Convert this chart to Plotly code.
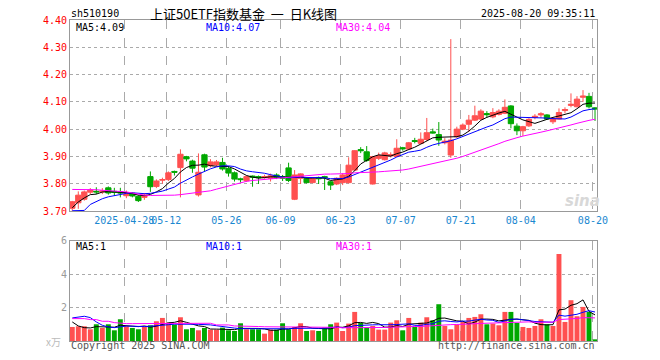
import numpy as np
import plotly.graph_objects as go

dates = ["04-15","04-16","04-17","04-18","04-21","04-22","04-23","04-24","04-25","04-28",
         "04-29","04-30","05-06","05-07","05-08","05-09","05-12","05-13","05-14","05-15",
         "05-16","05-19","05-20","05-21","05-22","05-23","05-26","05-27","05-28","05-29",
         "05-30","06-03","06-04","06-05","06-06","06-09","06-10","06-11","06-12","06-13",
         "06-16","06-17","06-18","06-19","06-20","06-23","06-24","06-25","06-26","06-27",
         "06-30","07-01","07-02","07-03","07-04","07-07","07-08","07-09","07-10","07-11",
         "07-14","07-15","07-16","07-17","07-18","07-21","07-22","07-23","07-24","07-25",
         "07-28","07-29","07-30","07-31","08-01","08-04","08-05","08-06","08-07","08-08",
         "08-11","08-12","08-13","08-14","08-15","08-18","08-19","08-20"]

opens = [3.710,3.730,3.743,3.769,3.772,3.770,3.785,3.772,3.770,3.756,
         3.765,3.754,3.750,3.826,3.790,3.813,3.815,3.845,3.859,3.899,
         3.883,3.759,3.906,3.866,3.869,3.878,3.856,3.840,3.818,3.811,
         3.828,3.826,3.822,3.820,3.832,3.826,3.858,3.743,3.820,3.820,
         3.804,3.823,3.826,3.807,3.799,3.804,3.804,3.850,3.925,3.917,
         3.799,3.893,3.888,3.902,3.900,3.932,3.927,3.958,3.948,3.962,
         3.990,3.980,3.950,3.905,3.972,4.000,4.018,4.033,4.037,4.057,
         4.045,4.054,4.058,4.085,4.011,3.994,4.012,4.043,4.052,4.052,
         4.027,4.037,4.068,4.087,4.082,4.117,4.120,4.078]
highs = [3.737,3.772,3.775,3.784,3.787,3.784,3.790,3.785,3.785,3.775,
         3.768,3.758,3.766,3.845,3.816,3.822,3.845,3.848,3.926,3.902,
         3.888,3.911,3.910,3.890,3.887,3.895,3.865,3.845,3.822,3.830,
         3.830,3.830,3.833,3.837,3.838,3.832,3.877,3.850,3.838,3.824,
         3.822,3.826,3.829,3.810,3.823,3.838,3.897,3.923,3.934,3.938,
         3.902,3.914,3.917,3.915,3.963,3.935,3.953,3.968,3.988,4.041,
         4.002,4.026,3.967,4.330,4.009,4.021,4.052,4.086,4.073,4.066,
         4.077,4.073,4.109,4.088,4.021,4.012,4.040,4.055,4.062,4.055,
         4.044,4.076,4.080,4.131,4.121,4.143,4.133,4.080]
lows = [3.701,3.708,3.738,3.762,3.762,3.762,3.760,3.755,3.750,3.747,
        3.750,3.733,3.741,3.770,3.784,3.800,3.810,3.830,3.750,3.882,
        3.840,3.753,3.845,3.860,3.864,3.848,3.826,3.808,3.804,3.807,
        3.789,3.799,3.818,3.808,3.817,3.810,3.806,3.740,3.799,3.801,
        3.802,3.799,3.777,3.777,3.795,3.795,3.801,3.848,3.912,3.880,
        3.797,3.887,3.885,3.896,3.898,3.921,3.923,3.948,3.945,3.957,
        3.984,3.939,3.944,3.895,3.968,3.996,3.990,4.030,4.033,4.042,
        4.040,4.050,4.055,4.003,3.978,3.975,4.008,4.036,4.042,4.034,
        4.019,4.035,4.058,4.080,4.080,4.100,4.076,4.030]
closes = [3.734,3.758,3.770,3.777,3.770,3.773,3.766,3.768,3.766,3.764,
          3.755,3.738,3.758,3.789,3.810,3.815,3.840,3.842,3.908,3.891,
          3.857,3.842,3.861,3.880,3.880,3.854,3.839,3.817,3.815,3.826,
          3.824,3.822,3.826,3.829,3.824,3.820,3.812,3.832,3.836,3.804,
          3.820,3.818,3.822,3.795,3.820,3.832,3.868,3.921,3.921,3.885,
          3.899,3.903,3.913,3.906,3.930,3.928,3.950,3.955,3.963,3.987,
          3.986,3.960,3.956,3.960,4.000,4.015,4.033,4.049,4.066,4.053,
          4.061,4.066,4.080,4.020,3.994,4.009,4.036,4.047,4.056,4.037,
          4.040,4.061,4.072,4.091,4.110,4.121,4.082,4.074]
volumes = [0.84,0.88,0.88,0.70,1.00,0.78,1.00,0.64,1.30,0.88,
           0.78,0.70,0.84,0.94,1.18,1.38,1.10,0.98,1.42,0.70,
           0.78,0.64,0.78,0.68,0.68,0.80,0.64,0.60,1.06,0.70,
           0.70,0.70,0.44,0.68,0.68,1.06,0.70,0.84,1.06,0.60,
           0.64,0.60,0.80,1.00,1.10,0.60,1.04,1.74,1.08,0.80,
           0.90,0.68,0.68,1.10,1.24,0.64,1.38,0.84,1.10,1.42,
           1.24,2.20,0.90,0.70,0.98,1.14,1.38,1.44,1.60,1.00,
           1.04,0.94,1.74,1.74,1.08,0.84,0.78,0.90,1.30,1.00,
           0.90,5.20,1.14,2.44,1.48,2.04,1.74,0.10]

ma5_head = [3.712, 3.733, 3.748, 3.760]
ma10_head = [3.701, 3.701, 3.702, 3.724, 3.736, 3.745, 3.752, 3.757, 3.762]
ma30_head = [3.779, 3.779, 3.779, 3.779, 3.778, 3.776, 3.775, 3.774, 3.773, 3.770,
             3.766, 3.762, 3.758, 3.757, 3.757, 3.757, 3.757, 3.758, 3.760, 3.763,
             3.765, 3.768, 3.770, 3.774, 3.780, 3.786, 3.792, 3.797, 3.802]
vma5_head = [1.14, 0.90, 0.80, 0.78]
vma10_head = [1.38, 1.44, 1.48, 1.40, 1.14, 0.94, 0.84, 0.80, 0.84]
vma30_head = [1.34, 1.34, 1.34, 1.28, 1.28, 1.18, 1.18, 1.10, 1.05, 1.04,
              1.04, 1.04, 1.04, 1.04, 1.04, 1.04, 1.04, 1.04, 1.04, 1.04,
              1.04, 1.06, 1.06, 1.06, 0.96, 0.96, 0.96, 0.90, 0.90]

# legend values as printed on the chart
price_ma_labels = ["MA5:4.09", "MA10:4.07", "MA30:4.04"]
volume_ma_labels = ["MA5:1", "MA10:1", "MA30:1"]

tick_dates = ["04-28", "05-12", "05-26", "06-09", "06-23", "07-07", "07-21", "08-04", "08-20"]
tick_text = ["2025-04-28", "05-12", "05-26", "06-09", "06-23", "07-07", "07-21", "08-04", "08-20"]
price_ticks = [3.70, 3.80, 3.90, 4.00, 4.10, 4.20, 4.30, 4.40]
vol_ticks = [2, 4, 6]


def moving_avg(vals, n, head):
    out = list(head)
    for i in range(len(head), len(vals)):
        out.append(float(np.mean(vals[i - n + 1:i + 1])))
    return out


idx = np.arange(len(dates))
ma5 = moving_avg(closes, 5, ma5_head)
ma10 = moving_avg(closes, 10, ma10_head)
ma30 = moving_avg(closes, 30, ma30_head)
vma5 = moving_avg(volumes, 5, vma5_head)
vma10 = moving_avg(volumes, 10, vma10_head)
vma30 = moving_avg(volumes, 30, vma30_head)

RED = "#ff5050"
GREEN = "#00a800"
MONO = "DejaVu Sans Mono"

W, H = 660, 360
L, R, T, B = 70, 597, 20, 341


def px(x):
    return (x - L) / (R - L)


def py(y):
    return (B - y) / (B - T)


fig = go.Figure()
fig.add_trace(go.Candlestick(
    x=idx, open=opens, high=highs, low=lows, close=closes,
    increasing=dict(line=dict(color=RED, width=1), fillcolor=RED),
    decreasing=dict(line=dict(color=GREEN, width=1), fillcolor=GREEN),
    whiskerwidth=0, xaxis="x", yaxis="y", showlegend=False, hoverinfo="skip"))
for vals, col in [(ma5, "#000000"), (ma10, "#0000ff"), (ma30, "#ff00ff")]:
    fig.add_trace(go.Scatter(x=idx, y=vals, mode="lines", line=dict(color=col, width=1),
                             xaxis="x", yaxis="y", showlegend=False, hoverinfo="skip"))

vcolors = [RED if c >= o else GREEN for o, c in zip(opens, closes)]
fig.add_trace(go.Bar(x=idx, y=volumes, marker=dict(color=vcolors, line=dict(width=0)),
                     width=0.82, xaxis="x2", yaxis="y2", showlegend=False, hoverinfo="skip"))
for vals, col in [(vma5, "#000000"), (vma10, "#0000ff"), (vma30, "#ff00ff")]:
    fig.add_trace(go.Scatter(x=idx, y=vals, mode="lines", line=dict(color=col, width=1),
                             xaxis="x2", yaxis="y2", showlegend=False, hoverinfo="skip"))

tickpos = [dates.index(d) - 0.35 for d in tick_dates]
xrange_ = [-0.38, 87.33]
grid_common = dict(showline=True, mirror=True, linecolor="#999999", linewidth=1,
                   zeroline=False, ticks="")

y_main_bottom = py(211)
y_vol_top = py(240.7)

fig.update_layout(
    width=W, height=H, margin=dict(l=L, r=W - R, t=T, b=H - B),
    paper_bgcolor="white", plot_bgcolor="white",
    boxgap=0.12, boxgroupgap=0.0,
    xaxis=dict(domain=[0, 1], anchor="y", range=xrange_, tickmode="array",
               tickvals=tickpos, ticktext=tick_text, tickangle=0,
               tickfont=dict(family=MONO, size=10, color="#1a88d0"),
               showgrid=True, gridcolor="#aaaaaa", griddash="dash", gridwidth=1,
               rangeslider=dict(visible=False), **grid_common),
    yaxis=dict(domain=[y_main_bottom, 1], anchor="x", range=[3.70, 4.40], tickmode="array",
               tickvals=price_ticks, ticktext=["%.2f" % v for v in price_ticks],
               tickfont=dict(family=MONO, size=10, color="#ff0000"),
               showgrid=True, gridcolor="#aaaaaa", griddash="dot", gridwidth=1,
               **grid_common),
    xaxis2=dict(domain=[0, 1], anchor="y2", range=xrange_, tickmode="array",
                tickvals=tickpos, showticklabels=False,
                showgrid=True, gridcolor="#aaaaaa", griddash="dash", gridwidth=1,
                **grid_common),
    yaxis2=dict(domain=[0, y_vol_top], anchor="x2", range=[0, 6], tickmode="array",
                tickvals=vol_ticks, ticktext=[str(v) for v in vol_ticks],
                tickfont=dict(family=MONO, size=10, color="#999999"),
                showgrid=True, gridcolor="#aaaaaa", griddash="dot", gridwidth=1,
                **grid_common),
)


def txt(x, y, s, color="#000000", size=10, anchor="left", family=MONO, **kw):
    fig.add_annotation(xref="paper", yref="paper", x=px(x), y=py(y), text=s,
                       showarrow=False, xanchor=anchor, yanchor="middle",
                       font=dict(family=family, size=size, color=color), **kw)


txt(69, 13, "sh510190")
txt(243, 13, "上证50ETF指数基金  一  日K线图", size=13, anchor="center",
    family="Noto Sans CJK SC")
txt(597, 13, "2025-08-20 09:35:11", anchor="right")
txt(74, 27, price_ma_labels[0])
txt(204, 27, price_ma_labels[1], color="#0000ff")
txt(334, 27, price_ma_labels[2], color="#ff00ff")
txt(74, 246, volume_ma_labels[0])
txt(204, 246, volume_ma_labels[1], color="#0000ff")
txt(334, 246, volume_ma_labels[2], color="#ff00ff")
txt(63, 342, "x万", color="#bbbbbb", anchor="right", family="Noto Sans CJK SC")
txt(69, 346, "Copyright 2025 SINA.COM", color="#555555")
txt(597, 346, "http://finance.sina.com.cn", color="#555555", anchor="right")
txt(582, 201, "<i><b>sina</b></i>", color="#d8d8d8", size=15, anchor="center",
    family="DejaVu Sans")

fig.write_html("out.html", config={"displayModeBar": False, "staticPlot": True},
               post_script="document.body.style.margin='0';document.body.style.overflow='hidden';")
